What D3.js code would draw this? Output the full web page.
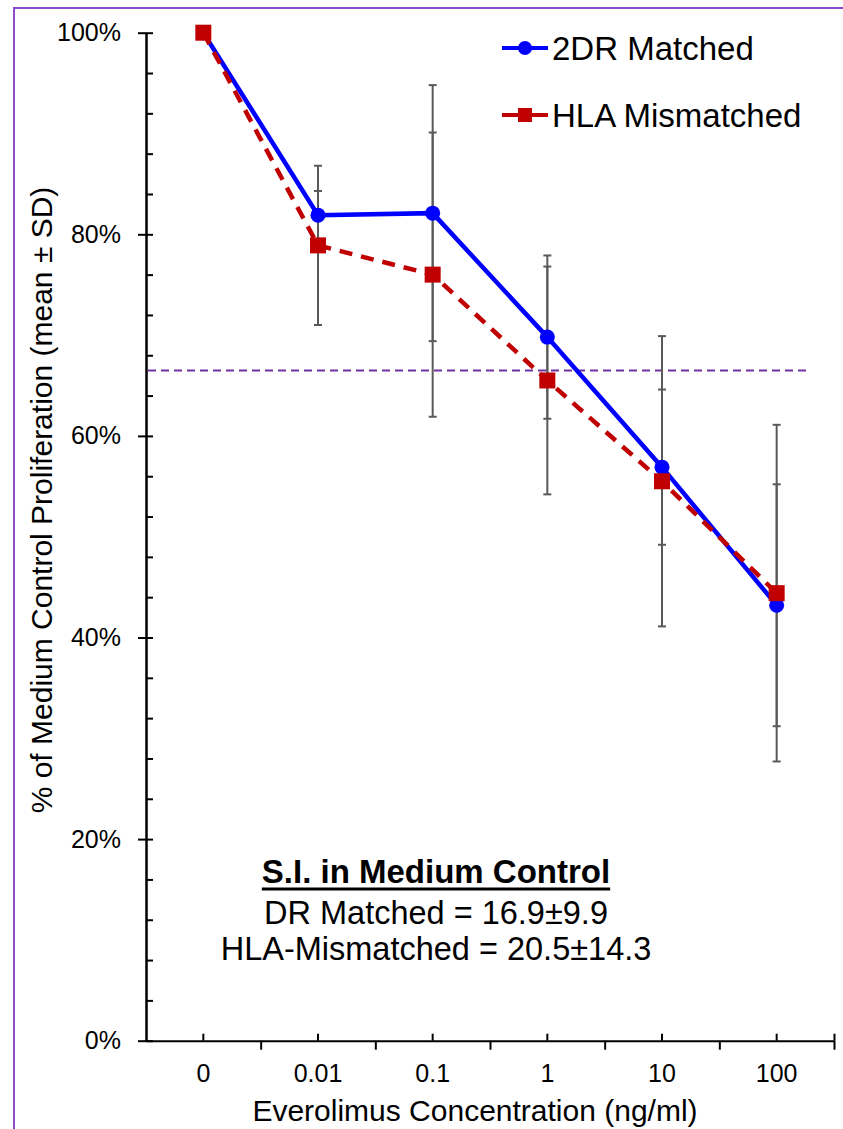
<!DOCTYPE html>
<html>
<head>
<meta charset="utf-8">
<script src="https://cdn.jsdelivr.net/npm/d3@7"></script>
<style>
  body { margin: 0; background: white; }
  text { font-family: "Liberation Sans", Arial, sans-serif; fill: black; }
</style>
</head>
<body>
<svg width="843" height="1129"></svg>
<script>
// concentrations (ng/ml) shown as categories
var categories = ["0", "0.01", "0.1", "1", "10", "100"];
var matched = [100, 81.9, 82.1, 69.8, 56.9, 43.2];
var matchedSD = [0, 2.4, 12.7, 8.1, 7.7, 12.0];
var mismatched = [100, 78.9, 76.0, 65.5, 55.5, 44.4];
var mismatchedSD = [0, 7.9, 14.1, 11.3, 14.4, 16.7];
var majorTicks = [0, 20, 40, 60, 80, 100];
var minorTicks = d3.range(0, 101, 4);
var refLine = 66.5;
var siLines = ["DR Matched = 16.9\u00b19.9", "HLA-Mismatched = 20.5\u00b114.3"];

var svg = d3.select("svg");
var plotLeft = 146, plotRight = 834, plotTop = 32.7, plotBottom = 1040.7;

var x = d3.scaleBand().domain(categories).range([plotLeft, plotRight]);
var xb = d3.scaleLinear().domain([0, categories.length]).range([plotLeft, plotRight]);
var y = d3.scaleLinear().domain([0, 100]).range([plotBottom, plotTop]);
var cx = function(i) { return x(categories[i]) + x.bandwidth() / 2; };

// purple frame
svg.append("rect")
  .attr("x", 14).attr("y", 8).attr("width", 900).attr("height", 1200)
  .attr("fill", "none").attr("stroke", "#8a4cc8").attr("stroke-width", 2);

// y axis
var ya = svg.append("g").attr("transform", "translate(" + plotLeft + ",0)")
  .call(d3.axisLeft(y).tickValues(majorTicks).tickSize(8).tickSizeOuter(0).tickPadding(17)
    .tickFormat(function(d) { return d + "%"; }));
ya.selectAll("text").attr("font-size", 25);
svg.append("g").attr("transform", "translate(" + plotLeft + ",0)")
  .call(d3.axisRight(y).tickValues(minorTicks).tickSize(7).tickSizeOuter(0).tickFormat(""));

// x axis: boundary ticks down, centre ticks up
svg.append("g").attr("transform", "translate(0," + plotBottom + ")")
  .call(d3.axisBottom(xb).tickValues(d3.range(1, categories.length + 1)).tickSize(9).tickSizeOuter(0).tickFormat(""));
svg.append("g").attr("transform", "translate(0," + plotBottom + ")")
  .call(d3.axisTop(x).tickSize(7).tickSizeOuter(0).tickFormat(""))
  .call(function(g) { g.select(".domain").remove(); });
svg.append("g").attr("transform", "translate(0," + plotBottom + ")")
  .call(d3.axisTop(xb).tickValues([categories.length]).tickSize(7).tickSizeOuter(0).tickFormat(""))
  .call(function(g) { g.select(".domain").remove(); });
var xa = svg.append("g").attr("transform", "translate(0," + plotBottom + ")")
  .call(d3.axisBottom(x).tickSize(0).tickSizeOuter(0).tickPadding(24));
xa.select(".domain").remove();
xa.selectAll("text").attr("font-size", 25);

svg.selectAll(".domain, .tick line").attr("stroke", "black").attr("stroke-width", 2);

// axis titles
svg.append("text")
  .attr("x", (plotLeft + plotRight) / 2 - 15).attr("y", 1121)
  .attr("text-anchor", "middle").attr("font-size", 30)
  .text("Everolimus Concentration (ng/ml)");
svg.append("text")
  .attr("transform", "translate(52,500)rotate(-90)")
  .attr("text-anchor", "middle").attr("font-size", 30)
  .text("% of Medium Control Proliferation (mean \u00b1 SD)");

// reference line
svg.append("line")
  .attr("x1", plotLeft + 2).attr("x2", plotRight - 28)
  .attr("y1", y(refLine)).attr("y2", y(refLine))
  .attr("stroke", "#7030a0").attr("stroke-width", 2).attr("stroke-dasharray", "8,5");

// error bars
function errorBars(vals, sds) {
  var g = svg.append("g").attr("stroke", "#595959").attr("stroke-width", 2);
  vals.forEach(function(v, i) {
    if (!sds[i]) return;
    var px = cx(i);
    g.append("line").attr("x1", px).attr("x2", px).attr("y1", y(v - sds[i])).attr("y2", y(v + sds[i]));
    [v - sds[i], v + sds[i]].forEach(function(e) {
      g.append("line").attr("x1", px - 4).attr("x2", px + 4).attr("y1", y(e)).attr("y2", y(e));
    });
  });
}
errorBars(matched, matchedSD);
errorBars(mismatched, mismatchedSD);

var line = d3.line().x(function(d, i) { return cx(i); }).y(function(d) { return y(d); });

svg.append("path").datum(matched).attr("d", line)
  .attr("fill", "none").attr("stroke", "#0000ff").attr("stroke-width", 4.5);
svg.selectAll(".dot").data(matched).enter().append("circle")
  .attr("cx", function(d, i) { return cx(i); }).attr("cy", function(d) { return y(d); })
  .attr("r", 7.5).attr("fill", "#0000ff");

svg.append("path").datum(mismatched).attr("d", line)
  .attr("fill", "none").attr("stroke", "#c00000").attr("stroke-width", 4.5)
  .attr("stroke-dasharray", "13,9");
svg.selectAll(".sq").data(mismatched).enter().append("rect")
  .attr("x", function(d, i) { return cx(i) - 8; }).attr("y", function(d) { return y(d) - 8; })
  .attr("width", 16).attr("height", 16).attr("fill", "#c00000");

// legend
var legend = svg.append("g");
legend.append("line").attr("x1", 502).attr("x2", 548).attr("y1", 48).attr("y2", 48)
  .attr("stroke", "#0000ff").attr("stroke-width", 4);
legend.append("circle").attr("cx", 525).attr("cy", 48).attr("r", 7).attr("fill", "#0000ff");
legend.append("text").attr("x", 552).attr("y", 59.5).attr("font-size", 33).text("2DR Matched");
legend.append("line").attr("x1", 502).attr("x2", 548).attr("y1", 115).attr("y2", 115)
  .attr("stroke", "#c00000").attr("stroke-width", 4);
legend.append("rect").attr("x", 518).attr("y", 108).attr("width", 14).attr("height", 14).attr("fill", "#c00000");
legend.append("text").attr("x", 552).attr("y", 126.5).attr("font-size", 33).text("HLA Mismatched");

// S.I. note
var noteX = 436;
var head = svg.append("text").attr("x", noteX).attr("y", 883)
  .attr("text-anchor", "middle").attr("font-size", 33).attr("font-weight", "bold")
  .text("S.I. in Medium Control");
var bb = head.node().getBBox();
svg.append("line").attr("x1", bb.x).attr("x2", bb.x + bb.width).attr("y1", 889).attr("y2", 889)
  .attr("stroke", "black").attr("stroke-width", 3);
svg.selectAll(".si").data(siLines).enter().append("text")
  .attr("x", noteX).attr("y", function(d, i) { return 924 + i * 36; })
  .attr("text-anchor", "middle").attr("font-size", 32.5)
  .text(function(d) { return d; });
</script>
</body>
</html>
